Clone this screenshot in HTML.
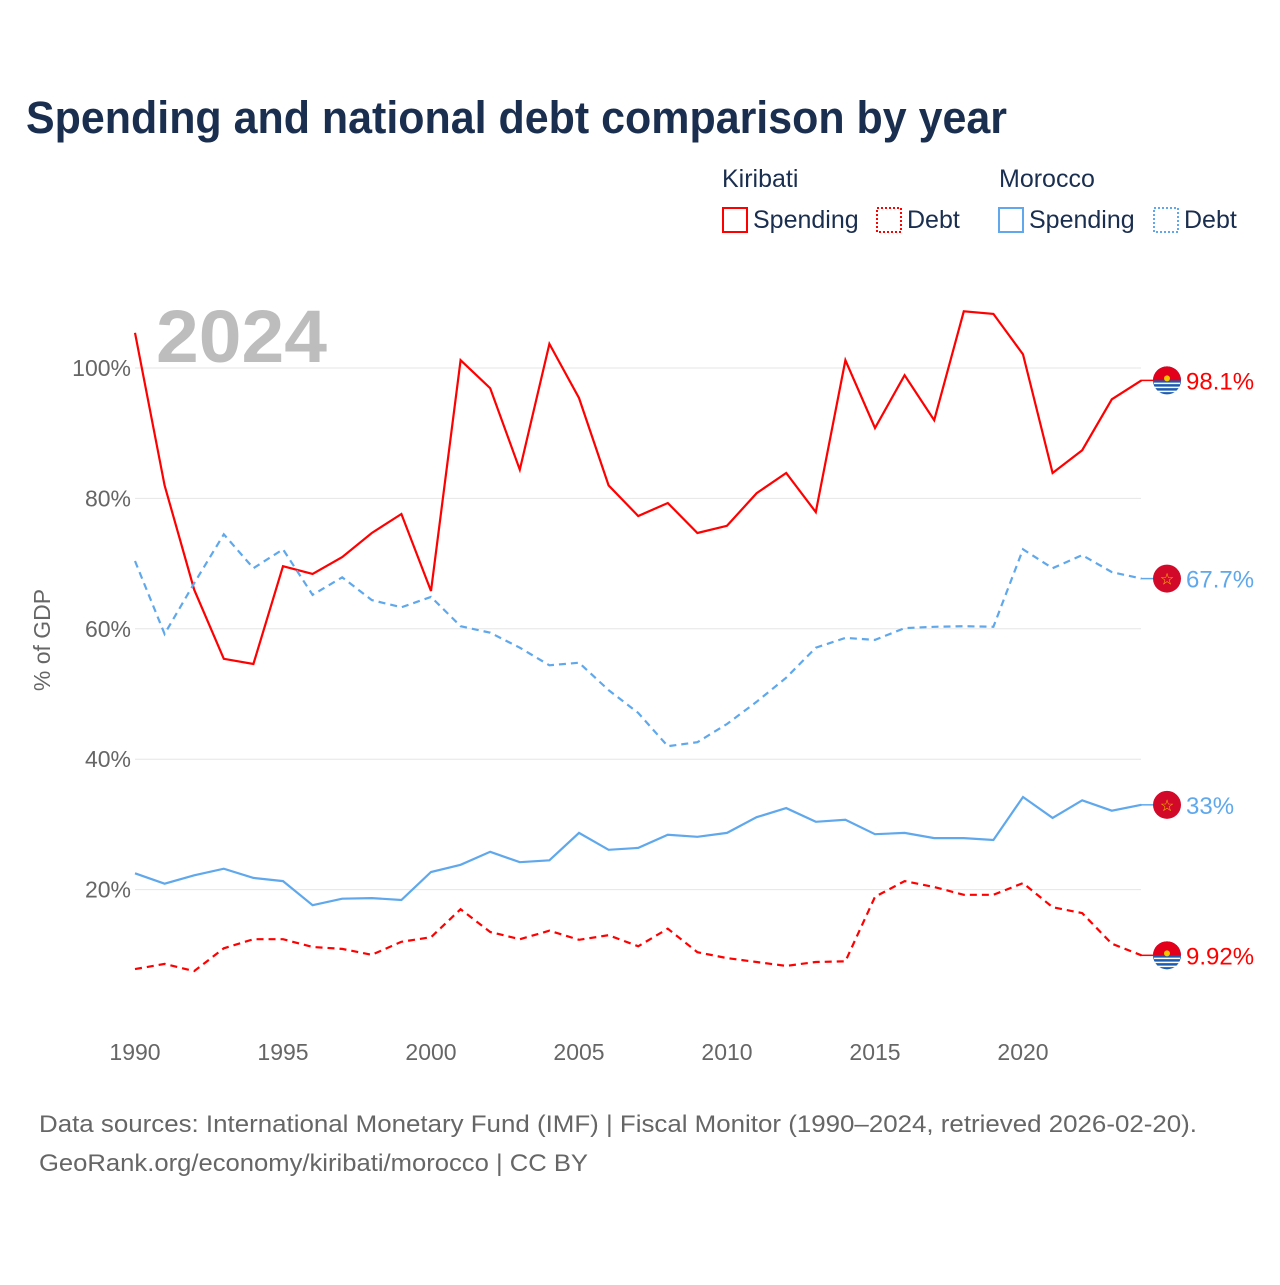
<!DOCTYPE html>
<html><head><meta charset="utf-8"><style>
body{margin:0;background:#fff;font-family:"Liberation Sans",sans-serif}
svg text{font-family:"Liberation Sans",sans-serif}
</style></head><body>
<svg id="chart" width="1280" height="1280" viewBox="0 0 1280 1280" xmlns="http://www.w3.org/2000/svg">
<rect width="1280" height="1280" fill="#fff"/>
<text x="26" y="133" font-size="45" font-weight="bold" fill="#1a2e4f" textLength="981" lengthAdjust="spacingAndGlyphs">Spending and national debt comparison by year</text>
<g font-size="25" fill="#1a2e4f">
<text x="722" y="187" fill="#1a2e4f">Kiribati</text>
<text x="999" y="187" fill="#1a2e4f">Morocco</text>
<g><rect x="723" y="208" width="24" height="24" fill="none" stroke="#f00" stroke-width="2"/><text x="753" y="228" fill="#1a2e4f">Spending</text></g>
<g><rect x="877" y="208" width="24" height="24" fill="none" stroke="#f00" stroke-width="2" stroke-dasharray="2,2"/><text x="907" y="228" fill="#1a2e4f">Debt</text></g>
<g><rect x="999" y="208" width="24" height="24" fill="none" stroke="#5fa8ec" stroke-width="2"/><text x="1029" y="228" fill="#1a2e4f">Spending</text></g>
<g><rect x="1154" y="208" width="24" height="24" fill="none" stroke="#5fa8ec" stroke-width="2" stroke-dasharray="2,2"/><text x="1184" y="228" fill="#1a2e4f">Debt</text></g>
</g>
<text x="156" y="362" font-size="74" font-weight="bold" fill="#bdbdbd" textLength="171" lengthAdjust="spacingAndGlyphs">2024</text>
<text transform="translate(50,640) rotate(-90)" text-anchor="middle" font-size="23" fill="#666">% of GDP</text>
<g id="grid"></g><g id="series"></g><g id="labels"></g>
<text x="39" y="1132" font-size="24" fill="#666" textLength="1158" lengthAdjust="spacingAndGlyphs">Data sources: International Monetary Fund (IMF) | Fiscal Monitor (1990–2024, retrieved 2026-02-20).</text>
<text x="39" y="1171" font-size="24" fill="#666" textLength="549" lengthAdjust="spacingAndGlyphs">GeoRank.org/economy/kiribati/morocco | CC BY</text>
</svg>
<script>
const years=[];for(let y=1990;y<=2024;y++)years.push(y);
const yTicks=[20,40,60,80,100];
const xTicks=[1990,1995,2000,2005,2010,2015,2020];
const kiribatiSpending=[105.4,82,66,55.4,54.6,69.6,68.4,71,74.7,77.6,65.8,101.2,96.9,84.4,103.7,95.4,82,77.3,79.3,74.7,75.8,80.8,83.9,77.9,101.2,90.8,98.9,92,108.7,108.3,102.1,83.9,87.4,95.2,98.1];
const kiribatiDebt=[7.8,8.6,7.5,11,12.4,12.4,11.2,10.9,10,12,12.7,17,13.5,12.4,13.7,12.3,13,11.3,14,10.4,9.5,8.9,8.3,8.9,9,18.9,21.3,20.4,19.2,19.2,21,17.3,16.4,11.7,9.92];
const moroccoDebt=[70.4,59.2,67,74.5,69.3,72.2,65.2,67.9,64.4,63.3,64.9,60.4,59.4,57.1,54.4,54.8,50.6,47.1,42,42.6,45.4,48.8,52.5,57.1,58.6,58.3,60.1,60.3,60.4,60.3,72.2,69.3,71.3,68.7,67.7];
const moroccoSpending=[22.5,20.9,22.2,23.2,21.8,21.3,17.6,18.6,18.7,18.4,22.7,23.8,25.8,24.2,24.5,28.7,26.1,26.4,28.4,28.1,28.7,31.1,32.5,30.4,30.7,28.5,28.7,27.9,27.9,27.6,34.2,31,33.7,32.1,33];
const endLabels=["98.1%","9.92%","67.7%","33%"];
const X=y=>135+(y-1990)*29.6;
const Y=v=>1020-v*6.52;
const NS="http://www.w3.org/2000/svg";
function mk(t,a,p){const e=document.createElementNS(NS,t);for(const k in a)e.setAttribute(k,a[k]);p.appendChild(e);return e;}
const grid=document.getElementById('grid');
yTicks.forEach(v=>{
 const l=mk('line',{x1:135,x2:1141,y1:Y(v),y2:Y(v),stroke:'#e6e6e6','stroke-width':1},grid);
 
 
 const t=mk('text',{x:131,y:Y(v)+8,'text-anchor':'end','font-size':23,fill:'#666'},grid);t.textContent=v+'%';
 
 
});
xTicks.forEach(y=>{
 const t=mk('text',{x:X(y),y:1060,'text-anchor':'middle','font-size':23,fill:'#666'},grid);t.textContent=y;
 
 
});
const ser=document.getElementById('series');
const defs=[[kiribatiSpending,'#f00','','kiribati-spending-line'],[kiribatiDebt,'#f00','7,5','kiribati-debt-line'],[moroccoDebt,'#5fa8ec','7,5','morocco-debt-line'],[moroccoSpending,'#5fa8ec','','morocco-spending-line']];
const lab=document.getElementById('labels');
defs.forEach((d,i)=>{
 const pts=d[0].map((v,j)=>X(years[j]).toFixed(1)+','+Y(v).toFixed(1)).join(' ');
 const pl=mk('polyline',{points:pts,fill:'none',stroke:d[1],'stroke-width':2.2,'stroke-dasharray':d[2]||'none'},ser);
 
 
 const last=d[0][d[0].length-1],cy=Y(last);
 mk('line',{x1:1141,x2:1155,y1:cy,y2:cy,stroke:d[1],'stroke-width':1.5},lab);
 const g=mk('g',{},lab);
 
 
 if(i<2){
  mk('circle',{cx:1167,cy:cy,r:14,fill:'#1c5cb0'},g);
  mk('path',{d:`M1153,${cy} A14,14 0 0 1 1181,${cy} Z`,fill:'#e3001b'},g);
  mk('circle',{cx:1167,cy:cy-2,r:3,fill:'#f7c600'},g);
  for(let k=0;k<3;k++)mk('line',{x1:1154,x2:1180,y1:cy+3+k*4,y2:cy+3+k*4,stroke:'#fff','stroke-width':1.5},g);
 }else{
  mk('circle',{cx:1167,cy:cy,r:14,fill:'#d3092a'},g);
  mk('text',{x:1167,y:cy+6,'text-anchor':'middle','font-size':16,fill:'#f5c400'},g).textContent='☆';
 }
 const t=mk('text',{x:1186,y:cy+9,'font-size':24,fill:d[1]},lab);t.textContent=endLabels[i];
 
 
});
</script>
</body></html>
